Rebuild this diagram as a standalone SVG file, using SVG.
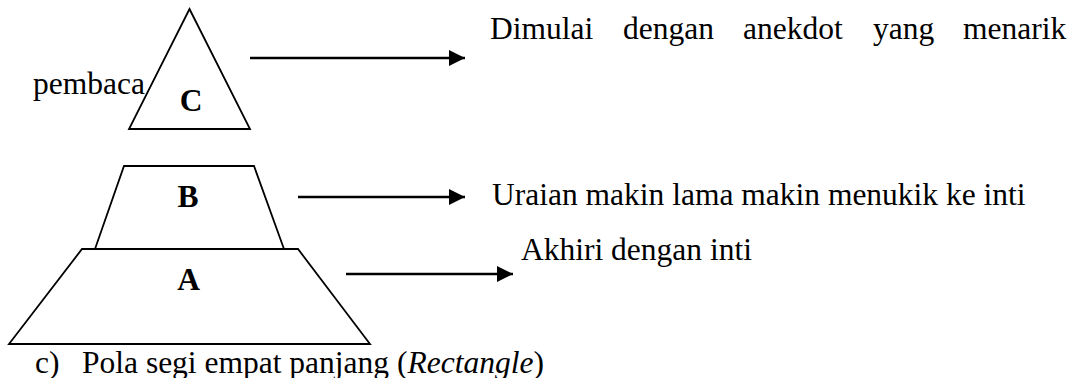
<svg xmlns="http://www.w3.org/2000/svg" width="1078" height="378" viewBox="0 0 1078 378">
<style>
.shape{fill:#fff;stroke:#000;stroke-width:1.8;stroke-linejoin:miter}
.t{font-family:"Liberation Serif","Times New Roman",serif;font-size:31.5px;fill:#000}
.b{font-weight:bold}
.conn{stroke:#000;stroke-width:2.5;fill:none}
</style>
<defs>
<marker id="ah" markerUnits="userSpaceOnUse" markerWidth="17" markerHeight="17" refX="16" refY="8" orient="auto">
<path d="M0,0 L16,8 L0,16 Z" fill="#000"/>
</marker>
</defs>
<g id="nodeC">
<polygon class="shape" points="189.5,9 250,129 129,129"/>
<text class="t b" x="191" y="111" text-anchor="middle">C</text>
</g>
<g id="nodeA">
<polygon class="shape" points="82,249 298,249 370,344 9,344"/>
<text class="t b" x="188.5" y="290" text-anchor="middle">A</text>
</g>
<g id="nodeB">
<polygon class="shape" points="124,166 254,166 284,249 95,249"/>
<text class="t b" x="188" y="207" text-anchor="middle">B</text>
</g>
<g id="connectors">
<line class="conn" x1="250" y1="58" x2="465" y2="58" marker-end="url(#ah)"/>
<line class="conn" x1="298" y1="197" x2="465" y2="197" marker-end="url(#ah)"/>
<line class="conn" x1="346" y1="274" x2="513" y2="274" marker-end="url(#ah)"/>
</g>
<g id="labels">
<text class="t" x="33" y="94">pembaca</text>
<text class="t" y="39"><tspan x="490">Dimulai</tspan><tspan x="623">dengan</tspan><tspan x="743">anekdot</tspan><tspan x="873">yang</tspan><tspan x="963">menarik</tspan></text>
<text class="t" x="492" y="205">Uraian makin lama makin menukik ke inti</text>
<text class="t" x="521" y="260">Akhiri dengan inti</text>
<text class="t" y="373"><tspan x="35">c)</tspan><tspan x="82">Pola segi empat panjang (<tspan font-style="italic">Rectangle</tspan>)</tspan></text>
</g>
</svg>
